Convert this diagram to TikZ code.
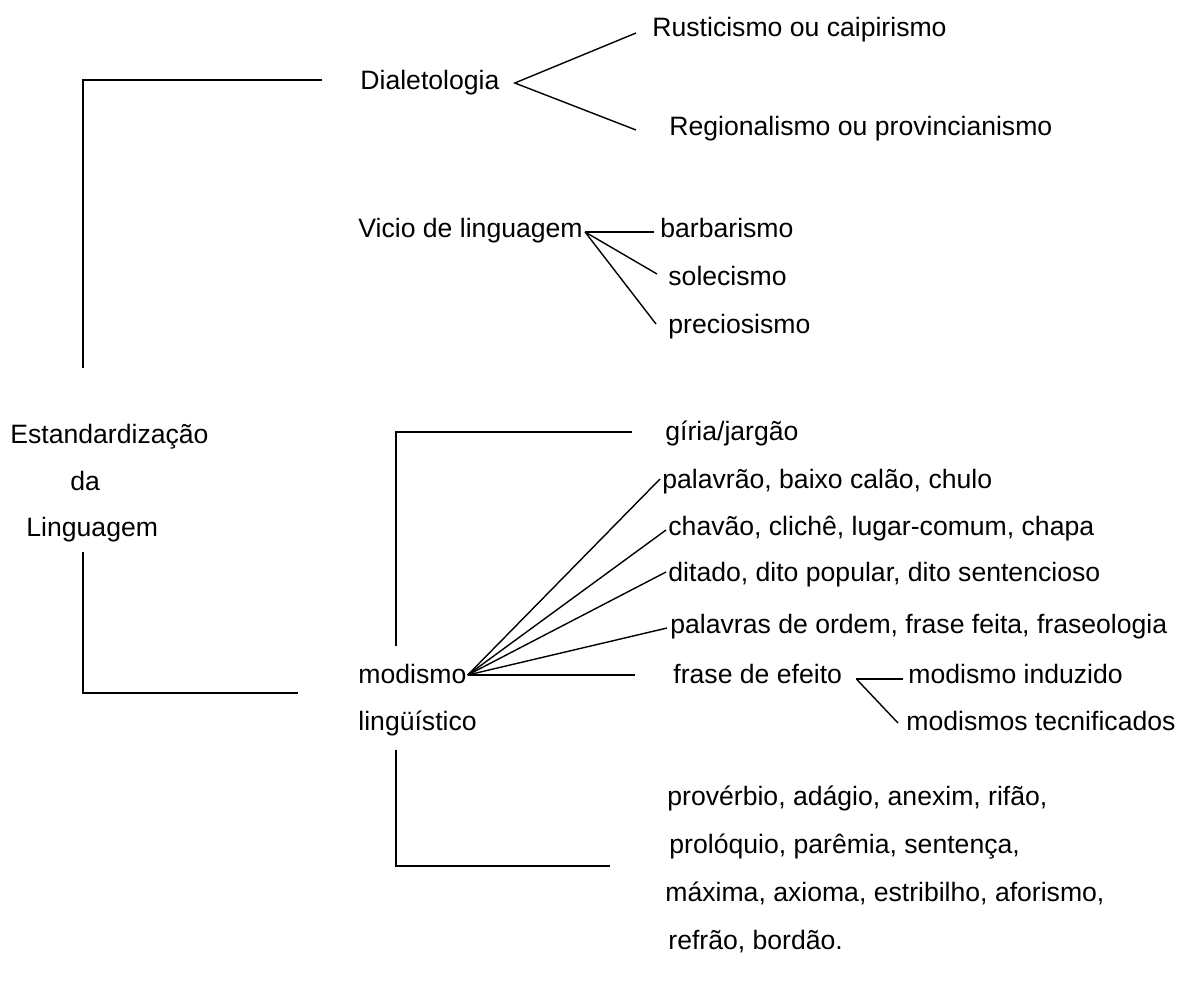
\documentclass[tikz,border=0pt]{standalone}
\usepackage{fontspec}
\setmainfont{Liberation Sans}
\usetikzlibrary{calc}

\begin{document}
\begin{tikzpicture}[x=0.5pt,y=-0.5pt,
	rotulo/.style={anchor=west,inner sep=0pt,text height=1.5ex,text depth=.25ex,
		yshift=-1pt,font=\fontsize{13.3}{16}\selectfont},
	ramo/.style={line width=0.7pt},
	chave/.style={line width=0.8pt}]
	\useasboundingbox (0,0) rectangle (1177,986);
	
	%labels
	\node[rotulo] (est)    at (10,435)  {Estandardização};
	\node[rotulo] (da)     at (70,482)  {da};
	\node[rotulo] (ling)   at (26,528)  {Linguagem};
	
	\node[rotulo] (dial)   at (360,81)  {Dialetologia};
	\node[rotulo] (rust)   at (652,28)  {Rusticismo ou caipirismo};
	\node[rotulo] (regi)   at (669,127) {Regionalismo ou provincianismo};
	
	\node[rotulo] (vicio)  at (358,229) {Vicio de linguagem};
	\node[rotulo] (barb)   at (660,229) {barbarismo};
	\node[rotulo] (sole)   at (668,277) {solecismo};
	\node[rotulo] (prec)   at (668,325) {preciosismo};
	
	\node[rotulo] (modis)  at (358,675) {modismo};
	\node[rotulo] (lingu)  at (358,722) {lingüístico};
	\node[rotulo] (giria)  at (665,432) {gíria/jargão};
	\node[rotulo] (palav)  at (662,480) {palavrão, baixo calão, chulo};
	\node[rotulo] (chavao) at (668,527) {chavão, clichê, lugar-comum, chapa};
	\node[rotulo] (ditado) at (668,573) {ditado, dito popular, dito sentencioso};
	\node[rotulo] (ordem)  at (670,625) {palavras de ordem, frase feita, fraseologia};
	\node[rotulo] (frase)  at (673,675) {frase de efeito};
	\node[rotulo] (induz)  at (908,675) {modismo induzido};
	\node[rotulo] (tecni)  at (906,722) {modismos tecnificados};
	
	\node[rotulo] (prov)   at (667,797) {provérbio, adágio, anexim, rifão,};
	\node[rotulo] (prolo)  at (669,845) {prolóquio, parêmia, sentença,};
	\node[rotulo] (maxi)   at (665,893) {máxima, axioma, estribilho, aforismo,};
	\node[rotulo] (refr)   at (668,941) {refrão, bordão.};
	
	%bracket ends
	\coordinate (estTopo) at (83,368);
	\coordinate (estBase) at (83,552);
	\coordinate (estFim)  at (298,693);
	\coordinate (modTopo) at (396,646);
	\coordinate (modBase) at (396,750);
	\coordinate (modFim)  at (610,866);
	
	%brackets
	\draw[chave] ($(dial.west)+(-38,-3)$) -| (estTopo);
	\draw[chave] (estBase) |- (estFim);
	\draw[chave] (modTopo) |- ($(giria.west)+(-33,-2)$);
	\draw[chave] (modBase) |- (modFim);
	
	%branches
	\coordinate (dialV) at ($(dial.east)+(15,0)$);
	\draw[ramo] ($(rust.west)+(-16,3)$) -- (dialV) -- ($(regi.west)+(-33,1)$);
	
	\coordinate (vicioV) at ($(vicio.east)+(2,1)$);
	\draw[ramo] (vicioV) -- ($(barb.west)+(-6,1)$);
	\draw[ramo] (vicioV) -- ($(sole.west)+(-11,-5)$);
	\draw[ramo] (vicioV) -- ($(prec.west)+(-12,-3)$);
	
	\coordinate (modV) at ($(modis.east)+(1,-2)$);
	\draw[ramo] (modV) -- ($(palav.west)+(-2,-3)$);
	\draw[ramo] (modV) -- ($(chavao.west)+(-2,1)$);
	\draw[ramo] (modV) -- ($(ditado.west)+(-2,-3)$);
	\draw[ramo] (modV) -- ($(ordem.west)+(-3,1)$);
	\draw[ramo] (modV) -- ($(frase.west)+(-38,-2)$);
	
	\coordinate (fraseV) at ($(frase.east)+(14,2)$);
	\draw[ramo] (fraseV) -- ($(induz.west)+(-5,2)$);
	\draw[ramo] (fraseV) -- ($(tecni.west)+(-8,-1)$);
	
	%\draw[help lines] (0,0) grid[step=50] (1177,986);
\end{tikzpicture}
\end{document}
